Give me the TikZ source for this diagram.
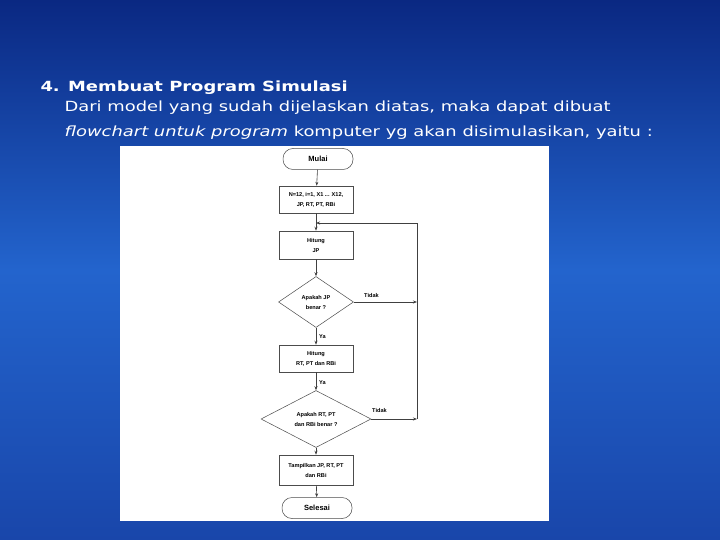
\documentclass[tikz,border=0pt]{standalone}
\usepackage{fontspec}
\setmainfont{DejaVu Sans}
\newfontfamily\fc{Liberation Sans}
\usetikzlibrary{shapes.geometric,arrows.meta}
\begin{document}
\begin{tikzpicture}[x=1pt,y=-1pt,
  box/.style={draw=black!70,line width=0.5pt,fill=white,minimum width=74pt,align=center,font=\fc\bfseries\fontsize{5.6}{10}\selectfont,inner sep=1pt},
  term/.style={box,rounded corners=10pt,minimum width=70pt,minimum height=21pt,font=\fc\bfseries\fontsize{7.5}{8}\selectfont},
  dia/.style={box,diamond,aspect=1.5,inner sep=0pt},
  arr/.style={draw=black!75,line width=0.6pt,-{Stealth[length=4pt,width=3pt]}},
  lab/.style={font=\fc\bfseries\fontsize{5.6}{6}\selectfont,anchor=west,inner sep=0pt},
  ttl/.style={anchor=west,text=white,transform shape,xscale=1.28,font=\fontsize{14}{16}\selectfont}]
\useasboundingbox (0,0) rectangle (720,540);
\shade[top color={rgb,255:red,10;green,40;blue,130},bottom color={rgb,255:red,35;green,100;blue,205}] (0,0) rectangle (720,270);
\shade[top color={rgb,255:red,35;green,100;blue,205},bottom color={rgb,255:red,25;green,70;blue,170}] (0,270) rectangle (720,540);
\node[ttl,font=\bfseries\fontsize{14}{16}\selectfont] (t1) at (36,88) {4. Membuat Program Simulasi};
\node[ttl] (t2) at (60,108) {Dari model yang sudah dijelaskan diatas, maka dapat dibuat};
\node[ttl] (t3) at (60,133) {\itshape flowchart untuk program\upshape{} komputer yg akan disimulasikan, yaitu :};
\fill[white] (120,146) rectangle (549,521);
\node[term] (mulai) at (318,159) {Mulai};
\node[box,minimum height=27pt] (init) at (316,199.5) {N=12, i=1, X1 ... X12,\\JP, RT, PT, RBi};
\node[box,minimum height=28pt] (hjp) at (316,245) {Hitung\\JP};
\node[dia,minimum width=75pt,minimum height=51pt] (d1) at (316,302) {};
\node[box,draw=none,fill=none] at (d1) {Apakah JP\\benar ?};
\node[box,minimum height=27pt] (hrt) at (316,358.5) {Hitung\\RT, PT dan RBi};
\node[dia,minimum width=110pt,minimum height=57pt] (d2) at (316,419) {};
\node[box,draw=none,fill=none] at (d2) {Apakah RT, PT\\dan RBi benar ?};
\node[box,minimum height=30pt] (tamp) at (316,470) {Tampilkan JP, RT, PT\\dan RBi};
\node[term] (sel) at (317,508) {Selesai};
\coordinate (c1) at (417,302);
\coordinate (c2) at (417,419);
\coordinate (c3) at (417,223);
\coordinate (c4) at (316,223);
\draw[arr] (mulai) -- (init);
\draw[arr] (init) -- (hjp);
\draw[arr] (hjp) -- (d1);
\draw[arr] (d1) -- (hrt);
\draw[arr] (hrt) -- (d2);
\draw[arr] (d2) -- (tamp);
\draw[arr] (tamp) -- (sel);
\draw[arr] (d1.east) -- (c1);
\draw[arr] (d2.east) -- (c2);
\draw[arr] (c2) -- (c3) -- (c4);
\node[lab] (l1) at (364,295) {Tidak};
\node[lab] (l2) at (372,410) {Tidak};
\node[lab] (l3) at (319,337) {Ya};
\node[lab] (l4) at (319,383) {Ya};
\end{tikzpicture}
\end{document}
